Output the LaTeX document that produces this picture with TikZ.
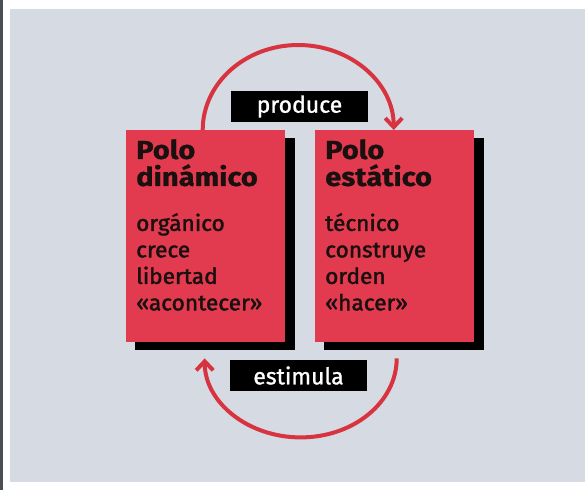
\documentclass[tikz,border=0pt]{standalone}
\usepackage{fontspec}
\setmainfont{Fira Sans}
\newfontfamily\titlefont[FakeBold=0.8,FakeStretch=1.12]{Fira Sans Bold}
\newfontfamily\bodyfont[FakeBold=1.8,FakeStretch=1.03]{Fira Sans}
\newfontfamily\labelfont[FakeBold=1.2]{Fira Sans}
\usetikzlibrary{arrows.meta}
\definecolor{panel}{HTML}{D5DAE3}
\definecolor{boxred}{HTML}{E23A4E}
\definecolor{arcred}{HTML}{D8343F}
\definecolor{ink}{HTML}{1A1010}
\definecolor{edge}{HTML}{4A4E55}
\tikzset{
  redbox/.style={fill=boxred, draw=none, minimum width=159pt, minimum height=212pt, inner sep=0pt},
  shadowbox/.style={fill=black, draw=none, minimum width=160pt, minimum height=212pt, inner sep=0pt},
  titletext/.style={font=\titlefont\fontsize{26}{27}\selectfont, text=ink, align=left, inner sep=0pt, anchor=north west},
  bodytext/.style={font=\bodyfont\fontsize{22}{26.5}\selectfont, text=ink, align=left, inner sep=0pt, anchor=north west},
  labelbox/.style={fill=black, text=white, font=\labelfont\fontsize{23}{24}\selectfont, minimum width=137pt, minimum height=31pt, inner sep=0pt},
  flow/.style={draw=arcred, line width=4pt, -{Straight Barb[length=9pt,width=17pt,line width=4pt]}}
}
\begin{document}
\begin{tikzpicture}[x=1pt,y=-1pt]
\useasboundingbox (0,0) rectangle (585,490);
\fill[white] (0,0) rectangle (585,490);
\fill[edge] (0,0) rectangle (3,490);
\fill[panel] (10,9) rectangle (585,482);
% shadows
\node[shadowbox, anchor=north west] (dynsh) at (135,138) {};
\node[shadowbox, anchor=north west] (stash) at (324,138) {};
% boxes
\node[redbox, anchor=north west] (dyn) at (126,130) {};
\node[redbox, anchor=north west] (sta) at (315,130) {};
% texts
\node[titletext] (dyntitle) at (136,139) {Polo\\dinámico};
\node[titletext] (statitle) at (325,139) {Polo\\estático};
\node[bodytext] (dynbody) at (136,213) {orgánico\\crece\\libertad\\«acontecer»};
\node[bodytext] (stabody) at (325,213) {técnico\\construye\\orden\\«hacer»};
% arcs
\draw[flow] ([xshift=-3pt]dyn.north) arc[start angle=180, end angle=0, x radius=95.5pt, y radius=85pt];
\draw[flow] ([xshift=2pt,yshift=-16pt]sta.south) arc[start angle=0, end angle=-180, x radius=96pt, y radius=79pt];
% labels
\node[labelbox] (produce) at (299.5,106.5) {produce};
\node[labelbox] (estimula) at (298.5,375.5) {estimula};
\end{tikzpicture}
\end{document}
